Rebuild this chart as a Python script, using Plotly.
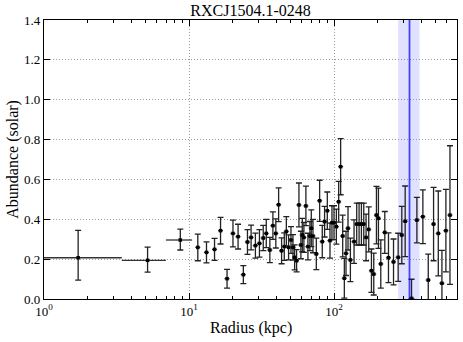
import numpy as np
import plotly.graph_objects as go

# radius (kpc) and abundance (solar)
radius = [1.72, 5.18, 8.71, 11.5, 13.2, 15.0, 16.5, 18.3, 20.1, 21.8, 23.7, 25.3, 26.8, 28.7,
          30.6, 32.5, 34.1, 36.1, 37.9, 39.7, 41.5, 43.5, 45.4, 46.9, 48.6, 50.5, 52.1, 53.5,
          55.2, 57.3, 59.1, 60.4, 62.0, 64.0, 66.1, 68.2, 69.7, 71.6, 75.5, 79.6, 83.0, 86.1,
          89.9, 93.8, 96.8, 100.0, 103.8, 107.7, 111.1, 114.8, 117.8, 121.0, 124.9, 129.7,
          137.5, 143.4, 148.9, 154.5, 160.4, 166.4, 173.6, 181.2, 188.0, 196.2, 202.5, 210.2,
          224.0, 237.5, 257.3, 276.9, 293.5, 309.6, 342.5, 372.8, 410.0, 446.6, 486.0, 523.8,
          555.0, 591.0, 630.5]
abund = [0.207, 0.194, 0.296, 0.259, 0.234, 0.249, 0.343, 0.102, 0.329, 0.313, 0.122, 0.286,
         0.309, 0.268, 0.279, 0.306, 0.329, 0.246, 0.368, 0.329, 0.473, 0.242, 0.263, 0.339,
         0.259, 0.296, 0.259, 0.209, 0.192, 0.472, 0.271, 0.321, 0.309, 0.467, 0.263, 0.316,
         0.355, 0.316, 0.226, 0.493, 0.288, 0.388, 0.443, 0.293, 0.383, 0.383, 0.363, 0.488,
         0.664, 0.316, 0.104, 0.229, 0.355, 0.196, 0.288, 0.376, 0.376, 0.376, 0.376, 0.309,
         0.349, 0.142, 0.125, 0.421, 0.405, 0.176, 0.334, 0.207, 0.186, 0.209, 0.321, 0.390,
         0.003, 0.396, 0.413, 0.095, 0.376, 0.329, 0.079, 0.343, 0.421]
err_up = [0.137, 0.066, 0.055, 0.067, 0.053, 0.055, 0.067, 0.047, 0.067, 0.062, 0.045, 0.062,
          0.062, 0.063, 0.069, 0.063, 0.071, 0.063, 0.069, 0.073, 0.085, 0.065, 0.069, 0.074,
          0.063, 0.067, 0.064, 0.063, 0.056, 0.110, 0.069, 0.084, 0.075, 0.099, 0.067, 0.073,
          0.092, 0.084, 0.079, 0.103, 0.081, 0.077, 0.094, 0.088, 0.085, 0.085, 0.088, 0.102,
          0.141, 0.105, 0.100, 0.111, 0.109, 0.109, 0.109, 0.105, 0.105, 0.105, 0.105, 0.117,
          0.113, 0.109, 0.105, 0.144, 0.151, 0.121, 0.105, 0.125, 0.115, 0.121, 0.144, 0.177,
          0.096, 0.114, 0.135, 0.130, 0.184, 0.213, 0.165, 0.207, 0.348]
err_dn = [0.112, 0.059, 0.050, 0.067, 0.053, 0.055, 0.067, 0.047, 0.067, 0.062, 0.045, 0.062,
          0.062, 0.063, 0.069, 0.063, 0.071, 0.063, 0.069, 0.073, 0.085, 0.065, 0.069, 0.074,
          0.063, 0.067, 0.064, 0.063, 0.056, 0.110, 0.069, 0.084, 0.075, 0.099, 0.067, 0.073,
          0.092, 0.084, 0.079, 0.103, 0.081, 0.077, 0.094, 0.088, 0.085, 0.085, 0.088, 0.102,
          0.141, 0.105, 0.100, 0.111, 0.109, 0.109, 0.109, 0.105, 0.105, 0.105, 0.105, 0.117,
          0.113, 0.109, 0.105, 0.144, 0.151, 0.121, 0.105, 0.125, 0.115, 0.121, 0.144, 0.177,
          0.003, 0.114, 0.135, 0.130, 0.184, 0.213, 0.165, 0.207, 0.348]
# radial bin edges (kpc): lower/upper extent around each point
r_lo = [1.0, 3.44, 6.93] + [0.96 * r for r in radius[3:]]
r_hi = [3.44, 6.93, 10.5] + [1.04 * r for r in radius[3:]]

r_line = 331.6
r_band = [277.0, 389.0]

serif = "Liberation Serif, DejaVu Serif, serif"

fig = go.Figure()

fig.add_vrect(x0=r_band[0], x1=r_band[1], fillcolor="rgba(0,0,255,0.12)", line_width=0, layer="below")

fig.add_trace(go.Scatter(
    x=radius, y=abund, mode="markers",
    marker=dict(symbol="square", size=3.5, color="black"),
    error_y=dict(type="data", symmetric=False, array=err_up, arrayminus=err_dn,
                 color="#222222", thickness=1.3, width=3),
    error_x=dict(type="data", symmetric=False,
                 array=[h - r for h, r in zip(r_hi, radius)],
                 arrayminus=[r - l for l, r in zip(r_lo, radius)],
                 color="#333333", thickness=1.3, width=0),
    showlegend=False, cliponaxis=True,
))

fig.add_vline(x=r_line, line=dict(color="rgba(0,0,255,0.7)", width=1.8))

ticktext = ["10<sup>0</sup>", "10<sup>1</sup>", "10<sup>2</sup>"]
minor_vals = [m * d for d in (1, 10, 100) for m in range(2, 10)]

fig.update_layout(
    width=463, height=342,
    margin=dict(l=44, r=6, t=20, b=43, autoexpand=False),
    paper_bgcolor="white", plot_bgcolor="white",
    font=dict(family=serif, size=13, color="black"),
    title=dict(text="RXCJ1504.1-0248", x=0.541, xanchor="center", y=0.985, yanchor="top",
               font=dict(size=16, family=serif)),
)
# axis titles placed as annotations for exact positioning
fig.add_annotation(text="Radius (kpc)", xref="paper", yref="paper", x=0.5, y=-0.104,
                   xanchor="center", yanchor="middle", showarrow=False, font=dict(size=16))
fig.add_annotation(text="Abundance (solar)", xref="paper", yref="paper", x=-0.077, y=0.5,
                   xanchor="center", yanchor="middle", textangle=-90, showarrow=False,
                   font=dict(size=16))
fig.update_xaxes(
    type="log", range=[0, np.log10(705)],
    tickvals=[1, 10, 100], ticktext=ticktext,
    ticks="inside", ticklen=6, tickcolor="black",
    minor=dict(tickvals=minor_vals, ticks="inside", ticklen=3, tickcolor="black", showgrid=False),
    showgrid=True, gridcolor="#999999", griddash="1px,2px", gridwidth=1,
    showline=True, linecolor="black", linewidth=1.2, mirror="ticks",
    zeroline=False, automargin=False,
)
fig.update_yaxes(
    range=[0, 1.4], tickvals=[0, 0.2, 0.4, 0.6, 0.8, 1.0, 1.2, 1.4],
    tickformat=".1f",
    ticks="inside", ticklen=6, tickcolor="black",
    showgrid=True, gridcolor="#999999", griddash="1px,2px", gridwidth=1,
    showline=True, linecolor="black", linewidth=1.2, mirror="ticks",
    zeroline=False, automargin=False,
)

# page body has a default 8px margin; remove it so the figure sits at the corner
fig.write_html("out.html", config={"displayModeBar": False},
               post_script="document.body.style.margin='0';")
